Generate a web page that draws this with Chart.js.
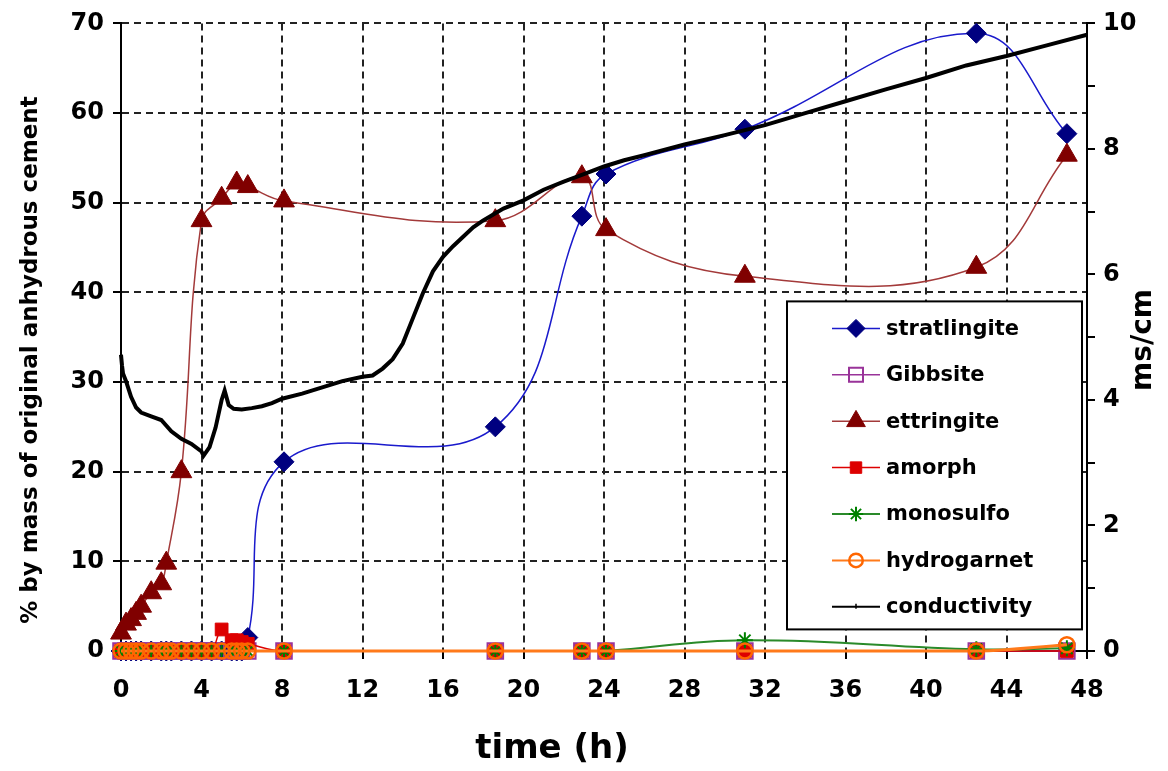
<!DOCTYPE html>
<html>
<head>
<meta charset="utf-8">
<script src="https://cdn.jsdelivr.net/npm/chart.js@4.4.0/dist/chart.umd.min.js"></script>
<style>
  html, body { margin: 0; padding: 0; background: #fff; }
  #wrap { position: relative; width: 1168px; height: 771px; }
</style>
</head>
<body>
<div id="wrap"><canvas id="c" width="1168" height="771"></canvas></div>
<script>
// ---------------- data ----------------
const xTitle = 'time (h)';
const yTitle = '% by mass of original anhydrous cement';
const y2Title = 'ms/cm';

// XRD sampling times (h); null = no measurement of that phase at that time
const xrdTimes     = [0, 0.25, 0.5, 0.75, 1, 1.5, 2, 2.25, 2.5, 3, 3.5, 4, 4.5, 5, 5.5, 5.75, 6, 6.3, 8.1, 18.6, 22.9, 24.1, 31.0, 42.5, 47.0];
const stratlingite = [0, 0, 0, 0, 0, 0, 0, 0, 0, 0, 0, 0, 0, 0, 0, 0, 0, 1.5, 21.1, 25.0, 48.5, 53.2, 58.2, 68.9, 57.7];
const gibbsite     = [0, 0, 0, 0, 0, 0, 0, 0, 0, 0, 0, 0, 0, 0, 0, 0, 0, 0, 0, 0, 0, 0, 0, 0, 0];
const ettringite   = [2.0, 3.0, 3.5, 4.2, 5.0, 6.5, 7.5, 9.8, null, 20.0, null, 48.0, null, 50.5, null, 52.2, null, 51.8, 50.2, 48.0, 52.9, 47.0, 41.8, 42.8, 55.3];
const amorph       = [0, 0, 0, 0, 0, 0, 0, 0, 0, 0, 0, 0, 0, 2.4, 1.2, 1.2, 1.0, 0.8, 0, 0, 0, 0, 0, 0, 0];
const monosulfo    = [0, 0, 0, 0, 0, 0, 0, 0, 0, 0, 0, 0, 0, 0, 0, 0, 0, 0, 0, 0, 0, 0, 1.2, 0.2, 0.3];
const hydrogarnet  = [0, 0, 0, 0, 0, 0, 0, 0, 0, 0, 0, 0, 0, 0, 0, 0, 0, 0, 0, 0, 0, 0, 0, 0, 0.7];

// conductivity (ms/cm)
const condTimes = [0, 0.05, 0.1, 0.25, 0.5, 0.75, 1, 1.5, 2, 2.5, 3, 3.5, 4, 4.1, 4.4, 4.7, 5.0, 5.15, 5.35, 5.6, 6, 6.5, 7, 7.5, 8, 9, 10, 11, 12, 12.5, 13, 13.5, 14, 14.5, 15, 15.5, 16, 16.5, 17, 17.5, 18, 19, 20, 21, 22, 23, 24, 25, 26, 28, 30, 32, 34, 36, 38, 40, 42, 44, 46, 48];
const conductivity = [4.72, 4.55, 4.42, 4.3, 4.05, 3.88, 3.8, 3.74, 3.68, 3.5, 3.38, 3.3, 3.18, 3.11, 3.25, 3.56, 4.0, 4.15, 3.92, 3.86, 3.85, 3.87, 3.9, 3.95, 4.02, 4.1, 4.2, 4.3, 4.37, 4.39, 4.5, 4.65, 4.9, 5.3, 5.7, 6.05, 6.28, 6.45, 6.6, 6.75, 6.86, 7.05, 7.18, 7.35, 7.48, 7.6, 7.72, 7.82, 7.9, 8.07, 8.22, 8.38, 8.57, 8.76, 8.95, 9.13, 9.33, 9.48, 9.65, 9.82];

// ---------------- helpers ----------------
const pts = (xs, ys) => xs.map((x, i) => ({ x: x, y: ys[i] }));
const FONT = '"DejaVu Sans", "Liberation Sans", Arial, sans-serif';

function drawMarker(ctx, style, r, x, y, fill, stroke, bw) {
  ctx.save();
  ctx.fillStyle = fill; ctx.strokeStyle = stroke; ctx.lineWidth = bw;
  ctx.setLineDash([]);
  ctx.beginPath();
  if (style === 'rectRot') {
    ctx.moveTo(x, y - r); ctx.lineTo(x + r, y); ctx.lineTo(x, y + r); ctx.lineTo(x - r, y); ctx.closePath();
    ctx.fill(); ctx.stroke();
  } else if (style === 'rect') {
    const s = r * Math.SQRT1_2;
    ctx.rect(x - s, y - s, 2 * s, 2 * s); ctx.fill(); ctx.stroke();
  } else if (style === 'triangle') {
    ctx.moveTo(x, y - r);
    ctx.lineTo(x + r * 0.866, y + r * 0.5);
    ctx.lineTo(x - r * 0.866, y + r * 0.5);
    ctx.closePath(); ctx.fill(); ctx.stroke();
  } else if (style === 'circle') {
    ctx.arc(x, y, r, 0, Math.PI * 2); ctx.fill(); ctx.stroke();
  } else if (style === 'star') {
    const d = r * Math.SQRT1_2;
    ctx.moveTo(x - r, y); ctx.lineTo(x + r, y);
    ctx.moveTo(x, y - r); ctx.lineTo(x, y + r);
    ctx.moveTo(x - d, y - d); ctx.lineTo(x + d, y + d);
    ctx.moveTo(x - d, y + d); ctx.lineTo(x + d, y - d);
    ctx.stroke();
  } else {
    ctx.moveTo(x, y - 3); ctx.lineTo(x, y + 2); ctx.stroke();
  }
  ctx.restore();
}

// inset legend (bottom-right inside plot) drawn from the datasets themselves
const insetLegend = {
  id: 'insetLegend',
  afterDraw(chart) {
    const ctx = chart.ctx, a = chart.chartArea;
    const bx = a.right - 300, by = a.top + 278, bw = 295, bh = 328;
    ctx.save();
    ctx.fillStyle = '#fff'; ctx.fillRect(bx, by, bw, bh);
    ctx.setLineDash([]);
    ctx.lineWidth = 2; ctx.strokeStyle = '#000'; ctx.strokeRect(bx, by, bw, bh);
    chart.data.datasets.forEach((ds, i) => {
      const y = by + 27 + i * 46.4;
      ctx.strokeStyle = ds.borderColor;
      ctx.lineWidth = Math.min(ds.borderWidth, 2);
      ctx.beginPath(); ctx.moveTo(bx + 45, y); ctx.lineTo(bx + 93, y); ctx.stroke();
      drawMarker(ctx, ds.pointRadius > 0 ? ds.pointStyle : 'tick', (ds.pointRadius || 3) * 0.9, bx + 69, y,
                 ds.pointBackgroundColor || '#000', ds.pointBorderColor || '#000', ds.pointBorderWidth || 1.5);
      ctx.fillStyle = '#000';
      ctx.font = 'bold 21px ' + FONT;
      ctx.textAlign = 'left'; ctx.textBaseline = 'middle';
      ctx.fillText(ds.label, bx + 99, y + 1);
    });
    ctx.restore();
  }
};

// axis titles placed like the original
const axisTitles = {
  id: 'axisTitles',
  afterDraw(chart) {
    const ctx = chart.ctx, a = chart.chartArea;
    ctx.save();
    ctx.fillStyle = '#000'; ctx.textAlign = 'center'; ctx.textBaseline = 'middle';
    ctx.font = 'bold 23px ' + FONT;
    ctx.save(); ctx.translate(31, 360); ctx.rotate(-Math.PI / 2); ctx.fillText(yTitle, 0, 0); ctx.restore();
    ctx.font = 'bold 28px ' + FONT;
    ctx.save(); ctx.translate(a.right + 57, 340); ctx.rotate(-Math.PI / 2); ctx.fillText(y2Title, 0, 0); ctx.restore();
    ctx.font = 'bold 34px ' + FONT;
    ctx.fillText(xTitle, 552, 749);
    ctx.restore();
  }
};

function phase(label, data, color, lineColor, style, radius, fill, bw, lw) {
  return {
    label: label,
    data: pts(xrdTimes, data),
    yAxisID: 'y',
    borderColor: lineColor,
    borderWidth: lw,
    pointStyle: style,
    pointRadius: radius,
    pointHoverRadius: radius,
    pointBackgroundColor: fill,
    pointBorderColor: color,
    pointBorderWidth: bw,
    tension: 0.4,
    spanGaps: true,
    clip: false,
    fill: false
  };
}

const datasets = [
  phase('stratlingite', stratlingite, '#000080', '#1a1acc', 'rectRot', 10, '#000080', 1, 1.5),
  phase('Gibbsite', gibbsite, '#993399', '#993399', 'rect', 11, 'rgba(0,0,0,0)', 2, 1.5),
  phase('ettringite', ettringite, '#800000', '#a33a3a', 'triangle', 12, '#800000', 1, 1.5),
  phase('amorph', amorph, '#dd0000', '#dd0000', 'rect', 9, '#dd0000', 1, 1.5),
  phase('monosulfo', monosulfo, '#008000', '#2a8a2a', 'star', 8, '#008000', 2, 2),
  phase('hydrogarnet', hydrogarnet, '#ff6600', '#ff7a1a', 'circle', 7.5, 'rgba(0,0,0,0)', 2.5, 3),
  {
    label: 'conductivity',
    data: pts(condTimes, conductivity),
    yAxisID: 'y2',
    borderColor: '#000',
    borderWidth: 4,
    pointRadius: 0,
    pointHoverRadius: 0,
    tension: 0,
    clip: false,
    fill: false
  }
];
// Excel-like stacking: later series drawn on top
datasets.forEach((d, i) => { d.order = datasets.length - i; });

const tickFont = { family: FONT, size: 24, weight: 'bold' };
const gridCommon = { color: '#222', lineWidth: 2, tickLength: 8, tickColor: '#000', tickWidth: 2, tickBorderDash: [] };

new Chart(document.getElementById('c'), {
  type: 'line',
  data: { datasets: datasets },
  plugins: [insetLegend, axisTitles],
  options: {
    responsive: false,
    devicePixelRatio: 1,
    animation: false,
    layout: { padding: { top: 22, left: 0, right: 0, bottom: 0 } },
    plugins: { legend: { display: false }, tooltip: { enabled: false }, title: { display: false } },
    scales: {
      x: {
        type: 'linear', position: 'bottom', min: 0, max: 48,
        ticks: { stepSize: 4, color: '#000', font: tickFont, padding: 17, maxRotation: 0, autoSkip: false },
        grid: gridCommon,
        border: { display: true, color: '#000', width: 2, dash: [7, 5] },
        afterFit: s => { s.height = 120; }
      },
      y: {
        type: 'linear', position: 'left', min: 0, max: 70,
        ticks: { stepSize: 10, color: '#000', font: tickFont, padding: 9 },
        grid: gridCommon,
        border: { display: true, color: '#000', width: 2, dash: [7, 5] },
        afterFit: s => { s.width = 121; }
      },
      y2: {
        type: 'linear', position: 'right', min: 0, max: 10,
        ticks: { stepSize: 1, color: '#000', font: tickFont, padding: 8,
                 callback: v => (v % 2 === 0 ? String(v) : '') },
        grid: { drawOnChartArea: false, tickLength: 8, tickColor: '#000', tickWidth: 2, lineWidth: 2 },
        border: { display: true, color: '#000', width: 2 },
        afterFit: s => { s.width = 81; }
      }
    }
  }
});
</script>
</body>
</html>
